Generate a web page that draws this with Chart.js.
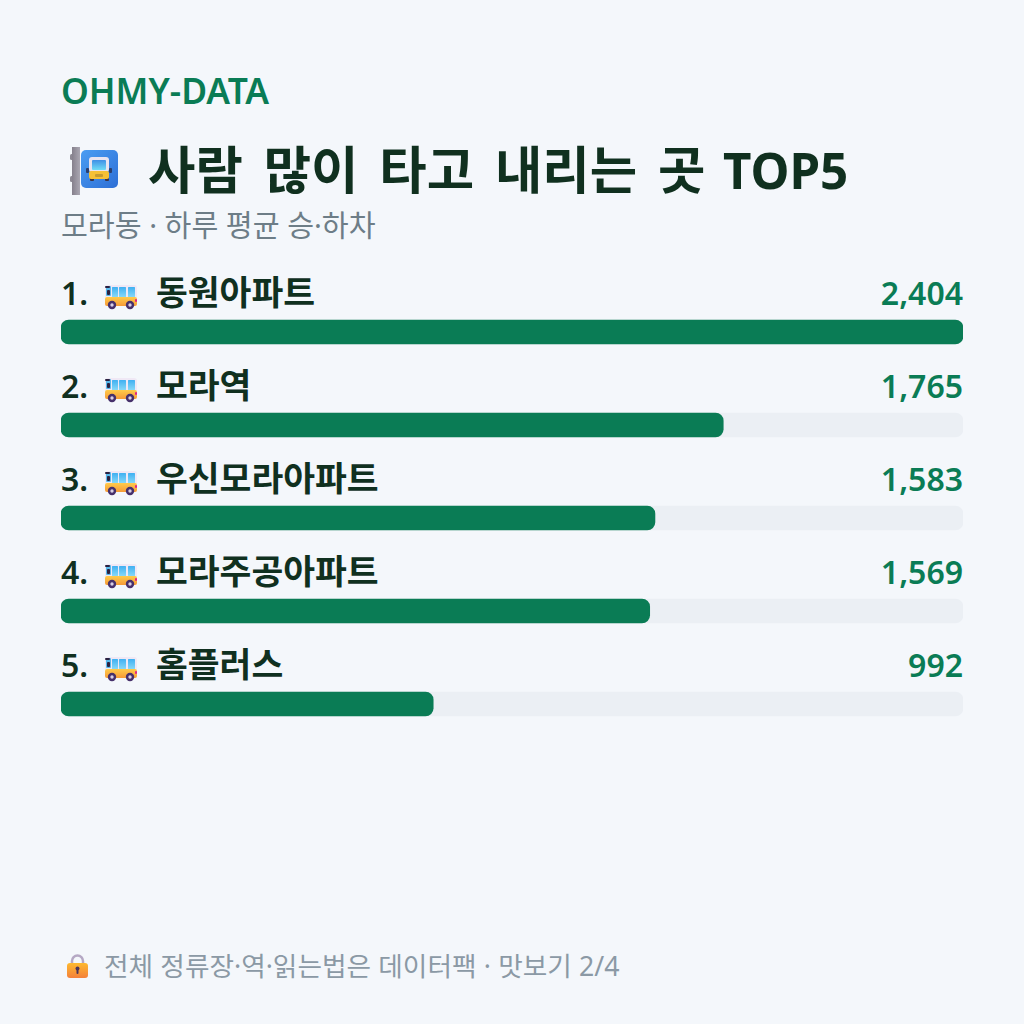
<!DOCTYPE html>
<html lang="ko">
<head>
<meta charset="utf-8">
<title>사람 많이 타고 내리는 곳 TOP5</title>
<script src="https://cdn.jsdelivr.net/npm/chart.js@4"></script>
<style>
  html, body { margin: 0; padding: 0; background: #f4f7fb; }
  canvas { display: block; }
</style>
</head>
<body>
<canvas id="barChart" width="1024" height="1024"></canvas>
<script>
// Boarding and alighting counts per stop
const stopNames = ['동원아파트', '모라역', '우신모라아파트', '모라주공아파트', '홈플러스'];
const stopRiders = [2404, 1765, 1583, 1569, 992];
const trackValues = [2404, 2404, 2404, 2404, 2404];

const brandText = 'OHMY-DATA';
const titleText = '사람 많이 타고 내리는 곳';
const titleTail = 'TOP5';
const subtitleText = '모라동 · 하루 평균 승·하차';
const footerText = '전체 정류장·역·읽는법은 데이터팩 · 맛보기 2/4';

const GREEN = '#0a7c55';
const DARK = '#10301f';
const FONT = '"Noto Sans", "Noto Sans CJK KR", sans-serif';

function roundBox(ctx, x, y, w, h, r, fill) {
    ctx.beginPath();
    ctx.roundRect(x, y, w, h, r);
    ctx.fillStyle = fill;
    ctx.fill();
}

// Small bus, side view
function drawBus(ctx, x, y) {
    roundBox(ctx, x, y, 32, 14, 3, '#efe8f5');
    const glass = ctx.createLinearGradient(0, y + 2, 0, y + 12);
    glass.addColorStop(0, '#3fb0f2');
    glass.addColorStop(1, '#86d8f8');
    roundBox(ctx, x + 7, y + 2, 6, 10, 0.5, glass);
    roundBox(ctx, x + 14, y + 2, 7, 10, 0.5, glass);
    roundBox(ctx, x + 23, y + 2, 7, 10, 0.5, glass);
    roundBox(ctx, x + 1, y + 1, 5, 10, 1, '#57b9ec');
    roundBox(ctx, x, y + 1, 5, 2, 1, '#2b2140');
    roundBox(ctx, x + 2, y + 5, 3, 5, 1, '#2b2140');
    const body = ctx.createLinearGradient(0, y + 12, 0, y + 21);
    body.addColorStop(0, '#ffcb4a');
    body.addColorStop(1, '#f69a38');
    roundBox(ctx, x, y + 12, 32, 9, 2, body);
    roundBox(ctx, x + 30, y + 14, 2, 3, 1, '#e0218a');
    [7, 25].forEach(dx => {
        ctx.beginPath();
        ctx.arc(x + dx, y + 20, 4.2, 0, Math.PI * 2);
        ctx.fillStyle = '#46306b';
        ctx.fill();
        ctx.beginPath();
        ctx.arc(x + dx, y + 20, 1.7, 0, Math.PI * 2);
        ctx.fillStyle = '#d8cfe4';
        ctx.fill();
    });
}

// Bus stop sign on a pole
function drawStopSign(ctx, x, y) {
    roundBox(ctx, x, y + 7, 6, 6, 1.5, '#8d8994');
    roundBox(ctx, x, y + 29, 6, 6, 1.5, '#8d8994');
    const pole = ctx.createLinearGradient(x + 2, 0, x + 10, 0);
    pole.addColorStop(0, '#85808c');
    pole.addColorStop(1, '#aaa7b2');
    roundBox(ctx, x + 2, y, 8, 48, 0, pole);
    const plate = ctx.createLinearGradient(x + 11, y + 3, x + 48, y + 41);
    plate.addColorStop(0, '#4a9df2');
    plate.addColorStop(1, '#2d6fd6');
    roundBox(ctx, x + 11, y + 3, 37, 38, 5, plate);
    roundBox(ctx, x + 16, y + 21, 3, 5, 1, '#2a3f6e');
    roundBox(ctx, x + 39, y + 21, 3, 5, 1, '#2a3f6e');
    roundBox(ctx, x + 20, y + 31, 4, 3, 1, '#3b3346');
    roundBox(ctx, x + 35, y + 31, 4, 3, 1, '#3b3346');
    roundBox(ctx, x + 19, y + 10, 20, 15, 3, '#e8e4f0');
    const glass = ctx.createLinearGradient(0, y + 13, 0, y + 23);
    glass.addColorStop(0, '#3f8fe6');
    glass.addColorStop(1, '#6fdcf6');
    roundBox(ctx, x + 22, y + 13, 14, 10, 1, glass);
    roundBox(ctx, x + 19, y + 24, 20, 8, 2, '#f6c034');
    roundBox(ctx, x + 25, y + 27, 8, 3, 1, '#c49a30');
}

// Padlock in front of the footer line
function drawLock(ctx, x, y) {
    ctx.beginPath();
    ctx.arc(x + 10.5, y + 7, 5.5, Math.PI, 0);
    ctx.lineTo(x + 16, y + 12);
    ctx.moveTo(x + 5, y + 12);
    ctx.lineTo(x + 5, y + 7);
    ctx.strokeStyle = '#b5a8c4';
    ctx.lineWidth = 2.5;
    ctx.stroke();
    const body = ctx.createLinearGradient(0, y + 9, 0, y + 24);
    body.addColorStop(0, '#fdb92f');
    body.addColorStop(1, '#f4803a');
    roundBox(ctx, x, y + 9, 21, 15, 3, body);
    ctx.beginPath();
    ctx.arc(x + 10.5, y + 14.5, 2, 0, Math.PI * 2);
    ctx.fillStyle = '#4a3358';
    ctx.fill();
    roundBox(ctx, x + 9.5, y + 15, 2, 5, 1, '#4a3358');
}

function putText(ctx, text, x, y, font, color, align, wordSpacing) {
    ctx.font = font;
    ctx.fillStyle = color;
    ctx.textAlign = align || 'left';
    ctx.textBaseline = 'alphabetic';
    ctx.wordSpacing = wordSpacing || '0px';
    ctx.fillText(text, x, y);
}

// Header, footer and the text above each bar
const cardText = {
    id: 'cardText',
    afterDraw(chart) {
        const { ctx, scales } = chart;
        const left = chart.chartArea.left;
        const right = chart.chartArea.right;
        ctx.save();
        putText(ctx, brandText, left, 104, `600 35.4px ${FONT}`, GREEN);
        drawStopSign(ctx, 70, 147);
        putText(ctx, titleText, 148, 189, `700 51.5px ${FONT}`, DARK, 'left', '7.5px');
        putText(ctx, titleTail, 723, 189, `700 49.3px ${FONT}`, DARK);
        putText(ctx, subtitleText, left, 236, `400 29.2px ${FONT}`, '#6d7d87');
        stopNames.forEach((name, i) => {
            const top = Math.round(scales.y.getPixelForValue(i) - 12);
            putText(ctx, `${i + 1}.`, left, top - 15, `600 32px ${FONT}`, DARK);
            drawBus(ctx, 105, top - 35);
            putText(ctx, name, 156, top - 15, `700 34.6px ${FONT}`, DARK);
            putText(ctx, stopRiders[i].toLocaleString('en-US'), right, top - 15, `600 32px ${FONT}`, GREEN, 'right');
        });
        drawLock(ctx, 67, 954);
        putText(ctx, footerText, 104, 976, `400 26.7px ${FONT}`, '#8b99a5', 'left', '0.3px');
        ctx.restore();
    }
};

const ctx = document.getElementById('barChart').getContext('2d', { alpha: false });

const barChart = new Chart(ctx, {
    type: 'bar',
    data: {
        labels: stopNames,
        datasets: [
            {
                label: '승·하차',
                data: stopRiders,
                backgroundColor: GREEN,
                borderRadius: 8,
                borderSkipped: false,
                barThickness: 24,
                grouped: false,
                order: 1
            },
            {
                label: 'track',
                data: trackValues,
                backgroundColor: '#ebeff4',
                borderRadius: 8,
                borderSkipped: false,
                barThickness: 24,
                grouped: false,
                order: 2
            }
        ]
    },
    options: {
        indexAxis: 'y',
        responsive: false,
        animation: false,
        layout: { padding: { left: 61, right: 61, top: 285.5, bottom: 273.5 } },
        scales: {
            x: { display: false, min: 0, max: 2404 },
            y: { display: false }
        },
        plugins: {
            legend: { display: false },
            tooltip: { enabled: false }
        }
    },
    plugins: [{
        id: 'pageBackground',
        beforeDraw(chart) {
            chart.ctx.fillStyle = '#f4f7fb';
            chart.ctx.fillRect(0, 0, chart.width, chart.height);
        }
    }, cardText]
});
</script>
</body>
</html>
